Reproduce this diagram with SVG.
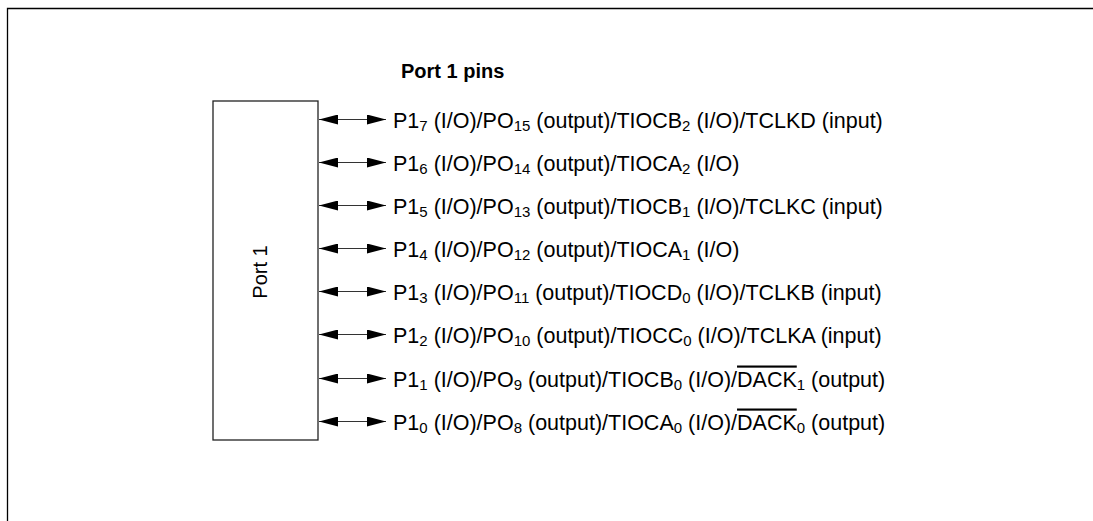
<svg xmlns="http://www.w3.org/2000/svg" width="1093" height="521" viewBox="0 0 1093 521">
<defs>
<marker id="ah" markerWidth="19" markerHeight="10" refX="19" refY="5" orient="auto-start-reverse" markerUnits="userSpaceOnUse">
<path d="M0,0 L19,5 L0,10 Z" fill="#000"/>
</marker>
<style>
.t{font-family:"Liberation Sans",Arial,sans-serif;font-size:20px;fill:#000}
.p{font-size:21.5px}
.s{font-size:15px}
.b{font-weight:bold}
.conn line{stroke:#333;stroke-width:1;marker-start:url(#ah);marker-end:url(#ah)}
.ov{text-decoration:overline}
</style>
</defs>
<rect width="1093" height="521" fill="#fff"/>
<path d="M7.5,521 V8.5 H1093" fill="none" stroke="#000" stroke-width="1.3"/>
<g id="port1">
<rect x="213" y="101" width="105" height="339" fill="#fff" stroke="#222" stroke-width="1.3"/>
<text class="t" transform="translate(267,272) rotate(-90)" text-anchor="middle">Port 1</text>
</g>
<g id="title"><text class="t b" x="401" y="78">Port 1 pins</text></g>
<g class="conn" id="connectors">
<line x1="319" y1="119.5" x2="386" y2="119.5"/>
<line x1="319" y1="162.5" x2="386" y2="162.5"/>
<line x1="319" y1="205.5" x2="386" y2="205.5"/>
<line x1="319" y1="248.5" x2="386" y2="248.5"/>
<line x1="319" y1="291.5" x2="386" y2="291.5"/>
<line x1="319" y1="334.5" x2="386" y2="334.5"/>
<line x1="319" y1="378.5" x2="386" y2="378.5"/>
<line x1="319" y1="421.5" x2="386" y2="421.5"/>
</g>
<g id="pins">
<text id="p17" class="t p" x="393" y="127.5">P1<tspan class="s" dy="3.5">7</tspan><tspan dy="-3.5"> (I/O)/PO</tspan><tspan class="s" dy="3.5">15</tspan><tspan dy="-3.5"> (output)/TIOCB</tspan><tspan class="s" dy="3.5">2</tspan><tspan dy="-3.5"> (I/O)/TCLKD (input)</tspan></text>
<text id="p16" class="t p" x="393" y="170.5">P1<tspan class="s" dy="3.5">6</tspan><tspan dy="-3.5"> (I/O)/PO</tspan><tspan class="s" dy="3.5">14</tspan><tspan dy="-3.5"> (output)/TIOCA</tspan><tspan class="s" dy="3.5">2</tspan><tspan dy="-3.5"> (I/O)</tspan></text>
<text id="p15" class="t p" x="393" y="213.5">P1<tspan class="s" dy="3.5">5</tspan><tspan dy="-3.5"> (I/O)/PO</tspan><tspan class="s" dy="3.5">13</tspan><tspan dy="-3.5"> (output)/TIOCB</tspan><tspan class="s" dy="3.5">1</tspan><tspan dy="-3.5"> (I/O)/TCLKC (input)</tspan></text>
<text id="p14" class="t p" x="393" y="256.5">P1<tspan class="s" dy="3.5">4</tspan><tspan dy="-3.5"> (I/O)/PO</tspan><tspan class="s" dy="3.5">12</tspan><tspan dy="-3.5"> (output)/TIOCA</tspan><tspan class="s" dy="3.5">1</tspan><tspan dy="-3.5"> (I/O)</tspan></text>
<text id="p13" class="t p" x="393" y="299.5">P1<tspan class="s" dy="3.5">3</tspan><tspan dy="-3.5"> (I/O)/PO</tspan><tspan class="s" dy="3.5">11</tspan><tspan dy="-3.5"> (output)/TIOCD</tspan><tspan class="s" dy="3.5">0</tspan><tspan dy="-3.5"> (I/O)/TCLKB (input)</tspan></text>
<text id="p12" class="t p" x="393" y="342.5">P1<tspan class="s" dy="3.5">2</tspan><tspan dy="-3.5"> (I/O)/PO</tspan><tspan class="s" dy="3.5">10</tspan><tspan dy="-3.5"> (output)/TIOCC</tspan><tspan class="s" dy="3.5">0</tspan><tspan dy="-3.5"> (I/O)/TCLKA (input)</tspan></text>
<text id="p11" class="t p" x="393" y="386.5">P1<tspan class="s" dy="3.5">1</tspan><tspan dy="-3.5"> (I/O)/PO</tspan><tspan class="s" dy="3.5">9</tspan><tspan dy="-3.5"> (output)/TIOCB</tspan><tspan class="s" dy="3.5">0</tspan><tspan dy="-3.5"> (I/O)/</tspan><tspan class="ov">DACK</tspan><tspan class="s" dy="3.5">1</tspan><tspan dy="-3.5"> (output)</tspan></text>
<text id="p10" class="t p" x="393" y="429.5">P1<tspan class="s" dy="3.5">0</tspan><tspan dy="-3.5"> (I/O)/PO</tspan><tspan class="s" dy="3.5">8</tspan><tspan dy="-3.5"> (output)/TIOCA</tspan><tspan class="s" dy="3.5">0</tspan><tspan dy="-3.5"> (I/O)/</tspan><tspan class="ov">DACK</tspan><tspan class="s" dy="3.5">0</tspan><tspan dy="-3.5"> (output)</tspan></text>
</g>
</svg>
